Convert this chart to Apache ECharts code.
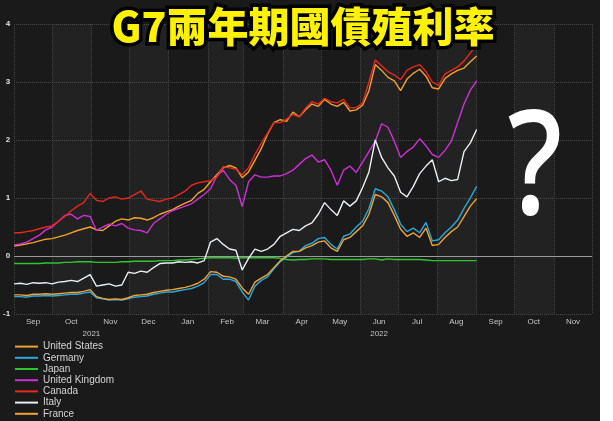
<!DOCTYPE html>
<html>
<head>
<meta charset="utf-8">
<script src="https://cdn.jsdelivr.net/npm/echarts@6/dist/echarts.min.js"></script>
<style>
  html, body { margin: 0; padding: 0; background: #ffffff; }
  #chart { width: 600px; height: 421px; }
</style>
</head>
<body>
<div id="chart"></div>
<script>
// sample days, counted from 2021-09-01
const dayOffsets = [
  0, 5, 10, 15, 20, 25, 30, 35, 40, 45,
  50, 55, 60, 65, 70, 75, 80, 85, 90, 95,
  100, 105, 110, 115, 120, 125, 130, 135, 140, 145,
  150, 155, 160, 165, 170, 175, 180, 185, 190, 195,
  200, 205, 210, 215, 220, 225, 230, 235, 240, 245,
  250, 255, 260, 265, 270, 275, 280, 285, 290, 295,
  300, 305, 310, 315, 320, 325, 330, 335, 340, 345,
  350, 355, 360, 365
];

const unitedStates = [
  0.17, 0.19, 0.21, 0.23, 0.26, 0.29, 0.30, 0.33, 0.36, 0.40,
  0.44, 0.47, 0.50, 0.45, 0.44, 0.52, 0.60, 0.64, 0.62, 0.66,
  0.65, 0.62, 0.66, 0.72, 0.76, 0.80, 0.86, 0.91, 0.96, 1.08,
  1.15, 1.28, 1.40, 1.52, 1.56, 1.52, 1.35, 1.45, 1.65, 1.85,
  2.10, 2.30, 2.35, 2.32, 2.48, 2.40, 2.52, 2.62, 2.58, 2.70,
  2.62, 2.58, 2.65, 2.50, 2.52, 2.60, 2.85, 3.30, 3.20, 3.08,
  3.02, 2.85, 3.05, 3.15, 3.22, 3.10, 2.90, 2.88, 3.06, 3.14,
  3.20, 3.24, 3.35, 3.45
];
const germany = [
  -0.70, -0.70, -0.71, -0.69, -0.69, -0.68, -0.69, -0.68, -0.67, -0.66,
  -0.66, -0.64, -0.62, -0.72, -0.74, -0.76, -0.75, -0.76, -0.74, -0.71,
  -0.70, -0.69, -0.66, -0.64, -0.62, -0.62, -0.60, -0.58, -0.56, -0.52,
  -0.46, -0.32, -0.32, -0.40, -0.40, -0.44, -0.62, -0.76, -0.52, -0.42,
  -0.36, -0.22, -0.10, -0.02, 0.06, 0.08, 0.18, 0.22, 0.30, 0.32,
  0.20, 0.12, 0.34, 0.38, 0.50, 0.60, 0.82, 1.16, 1.12, 1.02,
  0.80, 0.55, 0.42, 0.48, 0.40, 0.58, 0.26, 0.28, 0.40, 0.50,
  0.62, 0.82, 1.00, 1.20
];
const japan = [
  -0.13, -0.13, -0.13, -0.13, -0.13, -0.12, -0.12, -0.12, -0.11, -0.11,
  -0.10, -0.10, -0.10, -0.11, -0.11, -0.11, -0.11, -0.10, -0.10, -0.09,
  -0.09, -0.09, -0.09, -0.08, -0.08, -0.08, -0.07, -0.07, -0.06, -0.05,
  -0.04, -0.03, -0.03, -0.03, -0.03, -0.04, -0.03, -0.03, -0.03, -0.03,
  -0.03, -0.03, -0.04, -0.06, -0.07, -0.06, -0.06, -0.05, -0.05, -0.05,
  -0.06, -0.06, -0.06, -0.06, -0.06, -0.06, -0.05, -0.05, -0.07, -0.05,
  -0.06, -0.06, -0.06, -0.06, -0.06, -0.07, -0.08, -0.08, -0.08, -0.08,
  -0.08, -0.08, -0.08, -0.08
];
const unitedKingdom = [
  0.19, 0.21, 0.24, 0.30, 0.36, 0.45, 0.50, 0.60, 0.70, 0.72,
  0.64, 0.70, 0.68, 0.44, 0.50, 0.55, 0.52, 0.56, 0.48, 0.45,
  0.44, 0.40, 0.56, 0.64, 0.72, 0.78, 0.82, 0.86, 0.90, 0.98,
  1.06, 1.16, 1.38, 1.48, 1.32, 1.22, 0.85, 1.28, 1.40, 1.36,
  1.36, 1.38, 1.38, 1.42, 1.48, 1.58, 1.68, 1.74, 1.62, 1.66,
  1.48, 1.22, 1.48, 1.55, 1.44, 1.62, 1.80, 1.98, 2.28, 2.22,
  1.98, 1.70, 1.80, 1.88, 2.02, 1.90, 1.75, 1.70, 1.82, 1.98,
  2.30, 2.62, 2.86, 3.02
];
const canada = [
  0.40, 0.40, 0.42, 0.44, 0.47, 0.50, 0.52, 0.60, 0.68, 0.78,
  0.86, 0.92, 1.08, 0.96, 0.94, 1.00, 1.02, 0.98, 1.00, 1.06,
  1.12, 0.98, 0.96, 0.94, 0.98, 1.00, 1.06, 1.12, 1.22, 1.26,
  1.28, 1.30, 1.36, 1.54, 1.52, 1.50, 1.40, 1.52, 1.75, 1.94,
  2.12, 2.30, 2.30, 2.36, 2.44, 2.40, 2.55, 2.66, 2.62, 2.72,
  2.66, 2.64, 2.70, 2.55, 2.56, 2.64, 3.00, 3.38, 3.28, 3.18,
  3.12, 3.04, 3.20, 3.26, 3.30, 3.18, 3.00, 2.94, 3.14, 3.20,
  3.26, 3.36, 3.50, 3.64
];
const italy = [
  -0.48, -0.47, -0.49, -0.46, -0.47, -0.46, -0.48, -0.45, -0.44, -0.42,
  -0.44, -0.38, -0.32, -0.52, -0.50, -0.48, -0.52, -0.50, -0.28, -0.30,
  -0.26, -0.28, -0.20, -0.13, -0.12, -0.12, -0.10, -0.11, -0.10, -0.12,
  -0.08, 0.24, 0.30, 0.20, 0.12, 0.10, -0.24, -0.04, 0.12, 0.08,
  0.12, 0.20, 0.34, 0.40, 0.46, 0.44, 0.52, 0.57, 0.72, 0.92,
  0.80, 0.70, 0.95, 0.86, 0.95, 1.18, 1.45, 2.00, 1.70, 1.52,
  1.38, 1.10, 1.02, 1.20, 1.42, 1.55, 1.66, 1.28, 1.34, 1.30,
  1.32, 1.80, 1.95, 2.18
];
const france = [
  -0.67, -0.67, -0.68, -0.66, -0.66, -0.65, -0.66, -0.65, -0.64, -0.63,
  -0.63, -0.61, -0.58, -0.70, -0.73, -0.75, -0.74, -0.75, -0.72, -0.68,
  -0.67, -0.66, -0.63, -0.61, -0.59, -0.58, -0.56, -0.54, -0.51, -0.47,
  -0.40, -0.27, -0.28, -0.35, -0.36, -0.40, -0.55, -0.66, -0.45, -0.38,
  -0.32, -0.20, -0.08, 0.00, 0.08, 0.08, 0.14, 0.18, 0.24, 0.26,
  0.14, 0.08, 0.28, 0.32, 0.42, 0.52, 0.72, 1.06, 1.02, 0.92,
  0.70, 0.46, 0.34, 0.40, 0.32, 0.48, 0.18, 0.20, 0.32, 0.42,
  0.50, 0.68, 0.86, 0.99
];

const seriesNames = ['United States', 'Germany', 'Japan', 'United Kingdom', 'Canada', 'Italy', 'France'];
const seriesValues = [unitedStates, germany, japan, unitedKingdom, canada, italy, france];
const seriesColors = ['#f2a12e', '#2ba9da', '#2fc52f', '#cf2fd6', '#e8281e', '#e9eef0', '#eea43a'];

const monthNames = ['Jan', 'Feb', 'Mar', 'Apr', 'May', 'Jun', 'Jul', 'Aug', 'Sep', 'Oct', 'Nov', 'Dec'];
const yearLabelDays = ['2021-11-01', '2022-06-16'];

// one category per day, 2021-09-01 .. 2022-12-01
const days = [];
for (let t = Date.UTC(2021, 8, 1); t <= Date.UTC(2022, 11, 1); t += 86400000) {
  days.push(new Date(t).toISOString().slice(0, 10));
}
const isMonthStart = (i, v) => v.slice(8) === '01';

const chart = echarts.init(document.getElementById('chart'));

const series = seriesNames.map((name, k) => ({
  name: name,
  type: 'line',
  symbol: 'none',
  color: seriesColors[k],
  lineStyle: { width: 1.4 },
  data: dayOffsets.map((d, i) => [d, seriesValues[k][i]]),
  z: 3 + k
}));
series[0].markLine = {
  silent: true,
  symbol: 'none',
  label: { show: false },
  lineStyle: { color: '#9a9a9a', type: 'solid', width: 1 },
  data: [{ yAxis: 0 }],
  z: 1
};

chart.setOption({
  backgroundColor: '#1a1a1a',
  animation: false,
  textStyle: { fontFamily: 'Liberation Sans' },
  grid: { left: 13, top: 24, width: 579, height: 290 },
  legend: {
    orient: 'vertical',
    left: 15,
    top: 341,
    height: 90,
    padding: 0,
    icon: 'rect',
    itemWidth: 23,
    itemHeight: 2,
    itemGap: 0,
    textStyle: { color: '#d4d4d4', fontSize: 10, lineHeight: 11.2, fontFamily: 'Liberation Sans' },
    data: seriesNames
  },
  xAxis: [{
    type: 'category',
    data: days,
    boundaryGap: false,
    axisLine: { show: false },
    axisTick: { show: false },
    axisLabel: {
      interval: (i, v) => v.slice(8) === '16',
      formatter: v => monthNames[+v.slice(5, 7) - 1],
      color: '#c4c4c4',
      fontSize: 8,
      margin: 4
    },
    splitLine: { show: true, interval: isMonthStart, lineStyle: { color: '#444', type: 'dotted' } },
    splitArea: { show: true, interval: isMonthStart, areaStyle: { color: ['rgba(255,255,255,0)', 'rgba(255,255,255,0.035)'] } }
  }, {
    type: 'category',
    data: days,
    boundaryGap: false,
    position: 'bottom',
    offset: 12,
    axisLine: { show: false },
    axisTick: { show: false },
    axisLabel: {
      interval: (i, v) => yearLabelDays.indexOf(v) >= 0,
      formatter: v => v.slice(0, 4),
      color: '#c4c4c4',
      fontSize: 8,
      margin: 4
    },
    splitLine: { show: false }
  }],
  yAxis: {
    type: 'value',
    min: -1,
    max: 4,
    interval: 1,
    axisLine: { show: false },
    axisTick: { show: false },
    axisLabel: { color: '#e0e0e0', fontSize: 8, margin: 4, fontWeight: 'bold' },
    splitLine: { lineStyle: { color: '#4a4a4a', type: 'dotted' } }
  },
  graphic: [{
    type: 'text',
    x: 303,
    y: 26,
    z: 100,
    style: {
      text: 'G7兩年期國債殖利率',
      font: '900 41px "Noto Sans CJK TC"',
      fill: '#fff200',
      stroke: '#000000',
      lineWidth: 7,
      strokeFirst: true,
      textAlign: 'center',
      textVerticalAlign: 'middle'
    }
  }, {
    type: 'text',
    x: 535,
    y: 172,
    scaleX: 0.84,
    z: 100,
    style: {
      text: '?',
      font: '500 146px "Noto Sans"',
      fill: '#ffffff',
      textAlign: 'center',
      textVerticalAlign: 'middle'
    }
  }],
  series: series
});
</script>
</body>
</html>
